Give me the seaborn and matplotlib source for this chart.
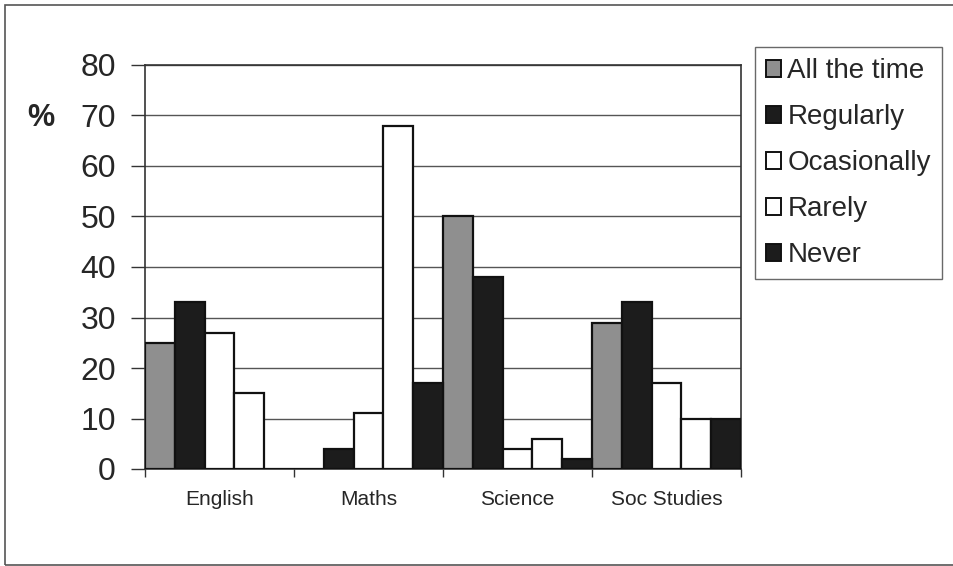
import matplotlib
matplotlib.use("Agg")
import matplotlib.pyplot as plt
from matplotlib.patches import Patch, Rectangle
import seaborn as sns
import pandas as pd

# Survey: how often each subject is covered, in percent
subjects = ["English", "Maths", "Science", "Soc Studies"]
frequencies = ["All the time", "Regularly", "Ocasionally", "Rarely", "Never"]
all_the_time = [25, 0, 50, 29]
regularly = [33, 4, 38, 33]
ocasionally = [27, 11, 4, 17]
rarely = [15, 68, 6, 10]
never = [0, 17, 2, 10]
y_ticks = [0, 10, 20, 30, 40, 50, 60, 70, 80]

series = [all_the_time, regularly, ocasionally, rarely, never]
rows = []
for freq, vals in zip(frequencies, series):
    for subj, v in zip(subjects, vals):
        rows.append({"Subject": subj, "Frequency": freq, "Percent": v})
df = pd.DataFrame(rows)

fill = {
    "All the time": "#8f8f8f",
    "Regularly": "#1c1c1c",
    "Ocasionally": "#ffffff",
    "Rarely": "#ffffff",
    "Never": "#1c1c1c",
}

sns.set_theme(style="white")
plt.rcParams["font.family"] = ["Liberation Sans", "DejaVu Sans"]

fig = plt.figure(figsize=(9.54, 5.66), dpi=100)
ax = fig.add_axes([145 / 954, 1 - 469 / 566, (741 - 145) / 954, (469 - 65) / 566])

sns.barplot(
    data=df, x="Subject", y="Percent", hue="Frequency",
    order=subjects, hue_order=frequencies, palette=fill,
    width=1.0, gap=0, edgecolor="#111111", linewidth=1.6,
    legend=False, ax=ax, zorder=3,
)

ax.set_ylim(0, 80)
ax.set_xlim(-0.5, len(subjects) - 0.5)
ax.set_yticks(y_ticks)
ax.yaxis.grid(True, color="#555555", linewidth=1.0, zorder=0)
ax.set_axisbelow(True)
ax.set_xlabel("")
ax.set_ylabel("")

for side in ["left", "bottom", "right", "top"]:
    ax.spines[side].set_visible(True)
    ax.spines[side].set_color("#333333")
    ax.spines[side].set_linewidth(1.2)

ax.tick_params(axis="y", which="major", direction="out", length=10, width=1.0,
               color="#333333", labelsize=23, pad=11, left=True)
ax.tick_params(axis="x", which="major", length=0, labelsize=15, pad=15)
ax.set_xticks([i - 0.5 for i in range(len(subjects) + 1)], minor=True)
ax.tick_params(axis="x", which="minor", direction="out", length=6, width=1.0,
               color="#333333", bottom=True)

fig.text(41 / 954, 1 - 118 / 566, "%", fontsize=22, fontweight="bold",
         ha="center", va="center")

handles = [Patch(facecolor=fill[f], edgecolor="#111111", linewidth=1.4, label=f)
           for f in frequencies]
leg = fig.legend(
    handles=handles, loc="upper left",
    bbox_to_anchor=(755 / 954, 1 - 47 / 566),
    frameon=True, fancybox=False, fontsize=20,
    handlelength=0.55, handleheight=0.55, handletextpad=0.22,
    labelspacing=0.72, borderpad=0.4, borderaxespad=0,
)
leg.get_frame().set_edgecolor("#444444")
leg.get_frame().set_linewidth(1.0)

# Outer chart border
fig.patches.append(Rectangle((5 / 954, 1 / 566), 1.2, 1 - 6 / 566,
                             transform=fig.transFigure, fill=False,
                             edgecolor="#555555", linewidth=1.2))

fig.savefig("out.png", dpi=100)
